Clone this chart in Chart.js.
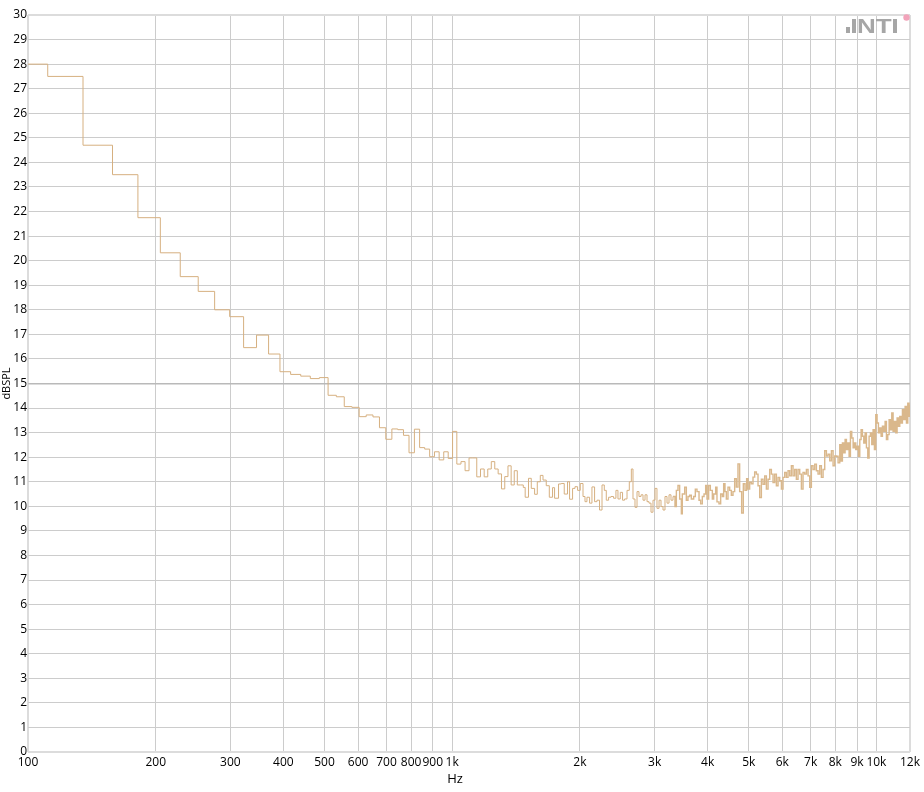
<!DOCTYPE html>
<html><head><meta charset="utf-8">
<script src="https://cdn.jsdelivr.net/npm/chart.js@4/dist/chart.umd.min.js"></script>
<style>html,body{margin:0;padding:0;background:#fff;}#wrap{width:924px;height:792px;}</style>
</head><body><div id="wrap"><canvas id="c" width="924" height="792"></canvas></div>
<script>
// Step start frequency (Hz) of each plotted band
const bandStartHz = [
 100,111.3,134.8,158.2,181.6,205.1,228.5,251.9,275.4,298.8,
 322.3,345.7,369.1,392.6,416,439.5,462.9,486.3,509.8,533.2,
 556.6,580.1,603.5,627,650.4,673.8,697.3,720.7,744.1,767.6,
 791,814.5,837.9,861.3,884.8,908.2,931.6,955.1,978.5,1002,
 1025.4,1048.8,1072.3,1095.7,1119.1,1142.6,1166,1189.5,1212.9,1236.3,
 1259.8,1283.2,1306.6,1330.1,1353.5,1377,1400.4,1423.8,1447.3,1470.7,
 1486,1513,1536,1564,1587,1613,1637,1666,1694,1724,
 1743,1781,1807,1837,1870,1891,1922,1947,1975,2004,
 2034,2056,2078,2108,2135,2166,2194,2225,2255,2283,
 2308,2337,2367,2401,2432,2459,2490,2521,2549,2583,
 2615,2644,2668,2697,2727,2756,2787,2817,2848,2879,
 2910,2942,2974,3007,3039,3073,3106,3140,3174,3209,
 3244,3279,3315,3351,
 3376,3406,3437,3469,3487,3532,3564,3596,3629,3662,
 3709,3742,3776,3818,3852,3887,3923,3958,3987,4023,
 4060,4104,4134,4179,4209,4255,4294,4333,4364,4396,
 4428,4468,4509,4550,4591,4633,4675,4717,4760,4812,
 4856,4900,4944,4981,5026,5071,5118,5164,
 5212,5259,5307,5356,5404,5454,5503,5553,5604,5655,
 5706,5758,5810,5863,5916,5970,6024,6079,6134,6190,
 6246,6303,6360,6418,6476,6535,6595,6655,6715,6776,
 6838,6900,6963,7026,7090,7155,7220,7285,7352,7418,
 7486,7554,7623,7692,7762,7833,7904,7976,
 8049,8122,8196,8255,8315,8376,8437,8498,8560,8622,
 8685,8748,8812,8876,8940,9005,9071,9137,9203,9270,
 9337,9405,9473,9542,9611,9681,9751,9822,9893,9965,
 10037,10110,10184,10258,10332,10407,10483,10559,10636,10713,
 10791,10869,10948,11028,11108,11189,11270,11352,11434,11517,
 11601,11686,11771,11856,11942,12000
];
// Level (dB SPL) of each band
const levelDbSPL = [
 28,27.5,24.7,23.5,21.75,20.32,19.35,18.75,18,17.72,
 16.46,16.97,16.2,15.48,15.37,15.3,15.2,15.24,14.52,14.46,
 14.06,14.03,13.65,13.72,13.64,13.2,12.73,13.15,13.12,12.89,
 12.18,13.14,12.39,12.33,12.02,12.22,11.89,12.22,11.95,13.05,
 11.72,11.82,11.45,11.97,11.97,11.2,11.52,11.2,11.52,11.82,
 11.52,11.32,10.71,11.21,11.65,10.87,11.45,10.87,10.87,10.77,
 10.37,11.14,10.73,10.49,11.0,11.26,11.07,10.84,10.37,10.76,
 10.33,10.91,10.93,10.5,11.0,10.29,10.73,10.8,10.65,10.93,
 10.4,10.19,10.37,10.13,10.79,10.19,10.25,9.85,10.87,10.65,
 10.25,10.37,10.4,10.33,10.65,10.3,10.57,10.25,10.3,10.65,
 11.0,11.52,10.3,9.96,10.6,10.4,10.47,10.25,10.47,10.19,
 10.13,9.76,10.25,10.73,9.92,10.25,9.99,9.85,10.4,10.13,
 10.47,10.25,10.4,9.99,
 10.65,10.85,10.3,9.7,10.5,10.78,10.25,10.4,10.45,10.3,
 10.4,10.7,10.6,10.25,10.1,10.4,10.5,10.85,10.3,10.85,
 10.65,10.3,10.5,10.78,10.18,10.1,10.5,10.4,10.92,10.6,
 10.3,10.78,10.65,10.45,10.6,11.12,10.78,11.73,10.6,9.73,
 10.92,10.65,11.12,10.7,10.98,10.92,11.19,11.4,
 11.31,10.84,10.36,11.1,10.9,11.24,10.7,11.1,11.5,11.31,
 10.97,11.31,10.84,11.18,11.04,10.7,11.18,11.38,11.18,11.45,
 11.24,11.65,11.24,11.5,11.1,11.5,11.31,10.7,11.38,11.31,
 11.5,11.24,10.77,11.65,11.5,11.72,11.45,11.31,11.65,11.18,
 11.5,12.26,12.05,12.12,11.85,12.26,11.65,12.05,
 12.04,11.77,12.51,11.84,12.58,12.18,12.72,12.31,12.58,12.04,
 13.05,12.78,12.38,12.58,12.31,12.45,12.04,12.72,13.12,12.85,
 12.58,12.99,12.38,11.97,12.85,12.99,12.51,13.12,12.31,13.73,
 13.39,12.99,13.19,12.85,13.26,13.05,13.46,12.72,12.92,13.53,
 13.12,13.8,13.05,13.46,12.99,13.6,13.26,13.66,13.39,13.93,
 13.53,14.07,13.39,14.2,13.66,14.13
];
const xTickValues = [100,200,300,400,500,600,700,800,900,1000,2000,3000,4000,5000,6000,7000,8000,9000,10000,12000];
const xTickLabels = ['100','200','300','400','500','600','700','800','900','1k','2k','3k','4k','5k','6k','7k','8k','9k','10k','12k'];
const yMin = 0, yMax = 30, yStep = 1;
const xTitle = 'Hz', yTitle = 'dBSPL', logoText = 'NT';

const FONT = '"Open Sans", "Noto Sans", sans-serif';
const points = bandStartHz.map((f, i) => ({x: f, y: levelDbSPL[i]}));

const extras = {
  id: 'extras',
  afterDraw(chart) {
    const ctx = chart.ctx;
    ctx.save();
    ctx.fillStyle = '#000';
    ctx.font = '13px ' + FONT;
    ctx.textAlign = 'center';
    ctx.textBaseline = 'middle';
    ctx.fillText(xTitle, 455, 779);
    // logo
    ctx.fillStyle = '#a6a6a6';
    ctx.fillRect(846, 27, 4, 6);
    ctx.fillRect(852, 19, 4, 14);
    ctx.save();
    ctx.translate(857, 33);
    ctx.scale(1.3, 1);
    ctx.font = 'bold 20px "Liberation Sans", Arial, sans-serif';
    ctx.textAlign = 'left';
    ctx.textBaseline = 'alphabetic';
    ctx.fillText(logoText, 0, 0);
    ctx.restore();
    ctx.fillRect(893, 19, 4, 14);
    ctx.fillStyle = '#f2a3ba';
    ctx.beginPath();
    ctx.arc(906.5, 17.5, 3.2, 0, Math.PI * 2);
    ctx.fill();
    ctx.restore();
  }
};

const gridColor = (edgeA, edgeB) => c => {
  const v = c.tick ? c.tick.value : null;
  if (v === edgeA || v === edgeB) return '#dcdcdc';
  if (v === 15 && edgeA === 0) return '#b9b9b9';
  return '#cccccc';
};
const gridWidth = (edgeA, edgeB) => c => {
  const v = c.tick ? c.tick.value : null;
  if (v === edgeA || v === edgeB) return 2;
  if (v === 15 && edgeA === 0) return 1.5;
  return 1;
};

new Chart(document.getElementById('c'), {
  type: 'line',
  data: {
    datasets: [{
      data: points,
      stepped: 'before',
      borderColor: 'rgb(214,176,128)',
      borderWidth: 1,
      segment: {
        borderWidth: c => (c.p0.parsed.x >= 3300 ? 1.4 : 1),
        borderColor: c => (c.p0.parsed.x >= 3300 ? 'rgb(218,184,140)' : 'rgb(214,176,128)')
      },
      pointRadius: 0,
      fill: false,
      tension: 0
    }]
  },
  options: {
    responsive: false,
    animation: false,
    devicePixelRatio: 1,
    layout: {padding: {top: 15, right: 14, left: 0, bottom: 0}},
    plugins: {legend: {display: false}, tooltip: {enabled: false}},
    scales: {
      x: {
        type: 'logarithmic',
        min: 100, max: 12000,
        afterBuildTicks: s => { s.ticks = xTickValues.map(v => ({value: v})); },
        afterFit: s => { s.height = 40; },
        ticks: {
          autoSkip: false, maxRotation: 0, minRotation: 0, padding: 3,
          color: '#000', font: {family: FONT, size: 12},
          callback: (v, i) => xTickLabels[i]
        },
        grid: {color: gridColor(100, 12000), lineWidth: gridWidth(100, 12000), drawTicks: false},
        border: {display: false}
      },
      y: {
        type: 'linear',
        min: yMin, max: yMax,
        afterFit: s => { s.width = 28; },
        ticks: {stepSize: yStep, autoSkip: false, padding: 1, color: '#000', font: {family: FONT, size: 12}},
        grid: {color: gridColor(yMin, yMax), lineWidth: gridWidth(yMin, yMax), drawTicks: false},
        border: {display: false},
        title: {display: true, text: yTitle, color: '#000', font: {family: FONT, size: 11}, padding: 0}
      }
    }
  },
  plugins: [extras]
});
</script></body></html>
